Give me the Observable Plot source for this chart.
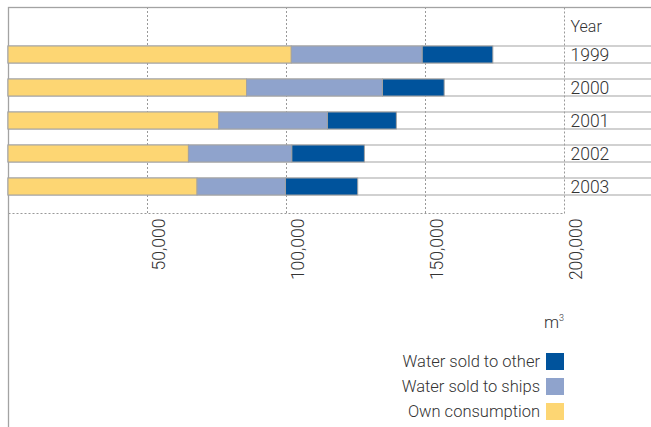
<!DOCTYPE html>
<html>
<head>
<meta charset="utf-8">
<script src="https://cdn.jsdelivr.net/npm/d3@7"></script>
<script src="https://cdn.jsdelivr.net/npm/@observablehq/plot@0.6"></script>
<style>
  html, body { margin: 0; padding: 0; background: #fff; }
  #wrap { position: relative; width: 651px; height: 427px; font-family: Roboto, "Liberation Sans", sans-serif; font-weight: 300; color: #333; }
  #wrap svg { position: absolute; left: 0; top: 0; }
  #legend { position: absolute; right: 87px; top: 305px; font-size: 16.5px; }
  #legend .unit { text-align: right; height: 26px; line-height: 26px; margin-bottom: 18px; font-size: 17px; }
  #legend .row { display: flex; justify-content: flex-end; align-items: center; height: 25px; }
  #legend .sw { width: 18px; height: 17px; margin-left: 6px; }
</style>
</head>
<body>
<div id="wrap"></div>
<script>
const years = ["1999", "2000", "2001", "2002", "2003"];
const seriesNames = ["Own consumption", "Water sold to ships", "Water sold to other"];
const ownConsumption = [101900, 85800, 75800, 64900, 68000];
const soldToShips = [47100, 48900, 39100, 37200, 31800];
const soldToOther = [25400, 22200, 24800, 26100, 26000];
const xTicks = [50000, 100000, 150000, 200000];
const colors = ["#fdd673", "#8fa3cc", "#00539c"];
const legendOrder = ["Water sold to other", "Water sold to ships", "Own consumption"];

const seriesValues = [ownConsumption, soldToShips, soldToOther];
const rows = [];
seriesNames.forEach((s, si) => years.forEach((y, yi) => rows.push({year: y, series: s, value: seriesValues[si][yi]})));

const xMax = xTicks[xTicks.length - 1];
const gray = "#a3a3a3";
const fmt = d3.format(",");

const chart = Plot.plot({
  width: 651,
  height: 427,
  marginLeft: 8,
  marginRight: 87,
  marginTop: 7,
  marginBottom: 214,
  style: {fontFamily: "Roboto, 'Liberation Sans', sans-serif", fontWeight: 300, color: "#333", background: "transparent"},
  x: {domain: [0, xMax], axis: null},
  y: {domain: years, range: [45, 196], paddingInner: 0.5, paddingOuter: 0, axis: null},
  color: {domain: seriesNames, range: colors},
  marks: [
    Plot.frame({stroke: "#999", strokeDasharray: "2,2"}),
    Plot.ruleX(xTicks.slice(0, -1), {stroke: "#999", strokeDasharray: "2,2"}),
    Plot.frame({stroke: gray, strokeWidth: 1.3, insetRight: -100, insetBottom: -230}),
    Plot.barX(years, {x1: 0, x2: xMax, y: d => d, fill: "none", stroke: gray, insetRight: -100}),
    Plot.barX(rows, Plot.stackX({x: "value", y: "year", fill: "series", stroke: gray, strokeWidth: 1})),
    Plot.text(years, {x: () => xMax, y: d => d, dx: 6, textAnchor: "start", fontSize: 17.5, fill: "#333"}),
    Plot.text(["Year"], {x: () => xMax, frameAnchor: "top", lineAnchor: "middle", dy: 19, dx: 6, textAnchor: "start", fontSize: 16, fill: "#333"}),
    Plot.text(xTicks, {x: d => d, frameAnchor: "bottom", text: d => fmt(d), rotate: -90, textAnchor: "end", lineAnchor: "top", dx: 5, dy: 5, fontSize: 17.5, fill: "#333"})
  ]
});
const wrap = document.getElementById("wrap");
wrap.appendChild(chart);

const legend = document.createElement("div");
legend.id = "legend";
legend.innerHTML = `<div class="unit">m<sup style="font-size:9px">3</sup></div>` +
  legendOrder.map(n => `<div class="row"><span>${n}</span><span class="sw" style="background:${colors[seriesNames.indexOf(n)]}"></span></div>`).join("");
wrap.appendChild(legend);
</script>
</body>
</html>
